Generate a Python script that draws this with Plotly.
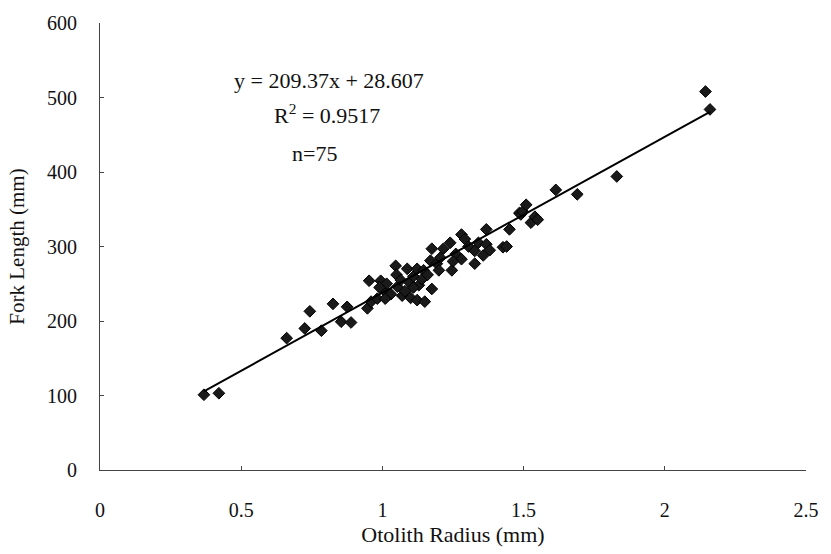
import plotly.graph_objects as go

# Otolith radius (mm) and fork length (mm)
radius = [0.368, 0.421, 0.661, 0.725, 0.743, 0.784, 0.825, 0.854, 0.875, 0.889,
          0.947, 0.953, 0.960, 0.982, 0.994, 1.006, 1.015, 1.030, 1.047, 1.050,
          1.053, 1.065, 1.070, 1.080, 1.088, 1.095, 1.100, 1.110, 1.123, 1.123,
          1.129, 1.140, 1.146, 1.150, 1.160, 1.170, 1.175, 1.175, 1.193, 1.200,
          1.216, 1.240, 1.246, 1.260, 1.280, 1.280, 1.292, 1.305, 1.327, 1.327,
          1.340, 1.357, 1.368, 1.368, 1.380, 1.427, 1.440, 1.450, 1.485, 1.490,
          1.497, 1.509, 1.526, 1.540, 1.550, 1.614, 1.690, 1.830, 2.144, 2.160,
          1.010, 1.205, 1.110, 0.990, 1.250]
fork_length = [101, 103, 177, 190, 213, 187, 223, 199, 219, 198,
               217, 254, 226, 230, 254, 241, 250, 236, 274, 262,
               246, 255, 234, 240, 270, 252, 231, 260, 270, 228,
               248, 256, 268, 226, 262, 281, 297, 243, 277, 268,
               297, 305, 268, 290, 283, 316, 310, 300, 294, 277,
               305, 288, 303, 323, 295, 299, 300, 323, 345, 343,
               347, 356, 332, 340, 336, 376, 370, 394, 508, 484,
               230, 285, 245, 245, 280]

slope = 209.37
intercept = 28.607
fit_x = [min(radius), max(radius)]
fit_y = [slope * v + intercept for v in fit_x]

x_ticks = [0, 0.5, 1, 1.5, 2, 2.5]
x_tick_text = ["0", "0.5", "1", "1.5", "2", "2.5"]
y_ticks = [0, 100, 200, 300, 400, 500, 600]

FONT = "Liberation Serif, Times New Roman, serif"

fig = go.Figure()
fig.add_trace(go.Scatter(
    x=radius, y=fork_length, mode="markers",
    marker=dict(symbol="diamond", size=9, color="#1a1a1a",
                line=dict(color="black", width=1)),
    showlegend=False))
fig.add_trace(go.Scatter(
    x=fit_x, y=fit_y, mode="lines",
    line=dict(color="black", width=2), showlegend=False))

annotations = [
    dict(text="y = 209.37x + 28.607", x=331, y=80),
    dict(text="R<sup>2</sup> = 0.9517", x=329, y=113),
    dict(text="n=75", x=316, y=153),
]
for a in annotations:
    fig.add_annotation(text=a["text"], x=(a["x"] - 100) / 712 * 2.5,
                       y=(471 - a["y"]) / 449 * 600,
                       xref="x", yref="y", showarrow=False,
                       font=dict(family=FONT, size=22, color="#111"))

fig.update_layout(
    width=831, height=554,
    margin=dict(l=100, r=19, t=22, b=83),
    paper_bgcolor="white", plot_bgcolor="white",
    font=dict(family=FONT, size=20, color="#111"),
)
fig.update_xaxes(
    range=[0, 2.5], tickvals=x_ticks, ticktext=x_tick_text,
    tickfont=dict(family=FONT, size=20, color="#111"),
    showgrid=False, zeroline=False, showline=True, linecolor="#444", linewidth=1,
    ticks="inside", ticklen=4, tickcolor="#444", ticklabelstandoff=22,
    title=dict(text="Otolith Radius (mm)", font=dict(family=FONT, size=22), standoff=6),
)
fig.update_yaxes(
    range=[0, 600], tickvals=y_ticks,
    tickfont=dict(family=FONT, size=20, color="#111"),
    showgrid=False, zeroline=False, showline=True, linecolor="#444", linewidth=1,
    ticks="inside", ticklen=4, tickcolor="#444", ticklabelstandoff=18,
    title=dict(text="Fork Length (mm)", font=dict(family=FONT, size=21), standoff=16),
)

fig.write_html("out.html")
